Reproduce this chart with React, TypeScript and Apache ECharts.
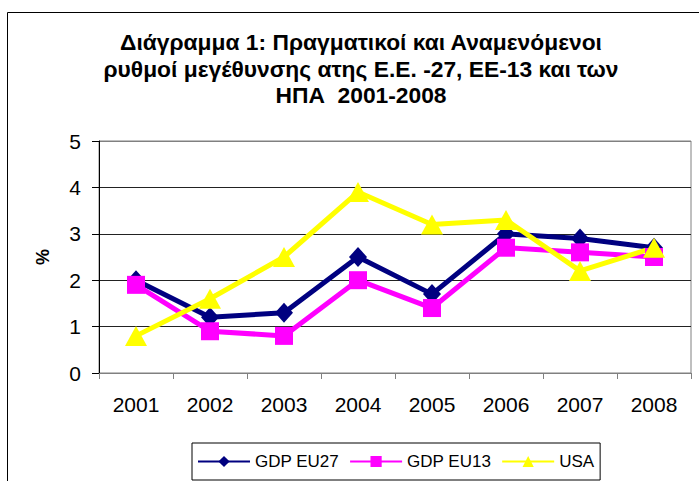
import React, { useEffect, useRef } from 'react';
import * as echarts from 'echarts';

const years = ['2001', '2002', '2003', '2004', '2005', '2006', '2007', '2008'];
const gdpEU27 = [2.0, 1.2, 1.3, 2.5, 1.7, 3.0, 2.9, 2.7];
const gdpEU13 = [1.9, 0.9, 0.8, 2.0, 1.4, 2.7, 2.6, 2.5];
const usa = [0.8, 1.6, 2.5, 3.9, 3.2, 3.3, 2.2, 2.7];
const seriesNames = ['GDP EU27', 'GDP EU13', 'USA'];
const titleLines = [
  'Διάγραμμα 1: Πραγματικοί και Αναμενόμενοι',
  'ρυθμοί μεγέθυνσης ατης Ε.Ε. -27, ΕΕ-13 και των',
  'ΗΠΑ  2001-2008',
];
const yAxisName = '%';

const FONT = '"Liberation Sans", Arial, sans-serif';

export default function App() {
  const ref = useRef<HTMLDivElement>(null);
  useEffect(() => {
    if (!ref.current) return;
    const chart = echarts.init(ref.current, undefined, { renderer: 'svg' });
    const titleY = [42, 69, 95];
    chart.setOption({
      animation: false,
      backgroundColor: '#fff',
      textStyle: { fontFamily: FONT, color: '#000' },
      graphic: [
        {
          type: 'rect',
          shape: { x: 7.5, y: 12.5, width: 720, height: 500 },
          style: { fill: 'none', stroke: '#000', lineWidth: 1 },
          silent: true,
        },
        ...titleLines.map((t, i) => ({
          type: 'text',
          x: 361,
          y: titleY[i],
          style: {
            text: t,
            fill: '#000',
            fontSize: 22.8,
            fontWeight: 'bold',
            fontFamily: FONT,
            align: 'center',
            verticalAlign: 'middle',
          },
        })),
      ],
      grid: {
        left: 99,
        top: 141,
        right: 8,
        bottom: 108,
        show: true,
        borderColor: '#808080',
        borderWidth: 1,
        backgroundColor: 'transparent',
      },
      legend: {
        left: 192,
        top: 443,
        data: seriesNames,
        itemWidth: 52,
        itemHeight: 14,
        itemGap: 10,
        padding: [10, 6, 10, 5],
        borderColor: '#000',
        borderWidth: 1,
        textStyle: { fontSize: 17, color: '#000', fontFamily: FONT },
      },
      xAxis: {
        type: 'category',
        data: years,
        boundaryGap: true,
        axisLine: { show: true, lineStyle: { color: '#808080', width: 1 } },
        axisTick: { show: true, length: 6, lineStyle: { color: '#808080' } },
        axisLabel: { fontSize: 21, color: '#000', margin: 21, fontFamily: FONT },
        splitLine: { show: false },
      },
      yAxis: {
        type: 'value',
        min: 0,
        max: 5,
        interval: 1,
        name: yAxisName,
        nameLocation: 'middle',
        nameGap: 47,
        nameRotate: 90,
        nameTextStyle: { fontSize: 18, fontWeight: 'bold', color: '#000', fontFamily: FONT },
        axisLine: { show: true, lineStyle: { color: '#000', width: 1 } },
        axisTick: { show: true, length: 7, lineStyle: { color: '#000' } },
        axisLabel: { fontSize: 21, color: '#000', margin: 18, fontFamily: FONT },
        splitLine: {
          show: true,
          lineStyle: { color: ['#808080', '#222', '#222', '#222', '#222', '#808080'], width: 1 },
        },
      },
      series: [
        {
          name: seriesNames[0],
          type: 'line',
          data: gdpEU27,
          symbol: 'diamond',
          symbolSize: [18, 20],
          lineStyle: { color: '#000080', width: 5 },
          itemStyle: { color: '#000080' },
        },
        {
          name: seriesNames[1],
          type: 'line',
          data: gdpEU13,
          symbol: 'rect',
          symbolSize: 18,
          lineStyle: { color: '#FF00FF', width: 5 },
          itemStyle: { color: '#FF00FF' },
        },
        {
          name: seriesNames[2],
          type: 'line',
          data: usa,
          symbol: 'triangle',
          symbolSize: [22, 20],
          lineStyle: { color: '#FFFF00', width: 5 },
          itemStyle: { color: '#FFFF00' },
        },
      ],
    });
    return () => chart.dispose();
  }, []);
  return (
    <div
      ref={ref}
      style={{ position: 'fixed', left: 0, top: 0, width: 699, height: 481 }}
    />
  );
}
